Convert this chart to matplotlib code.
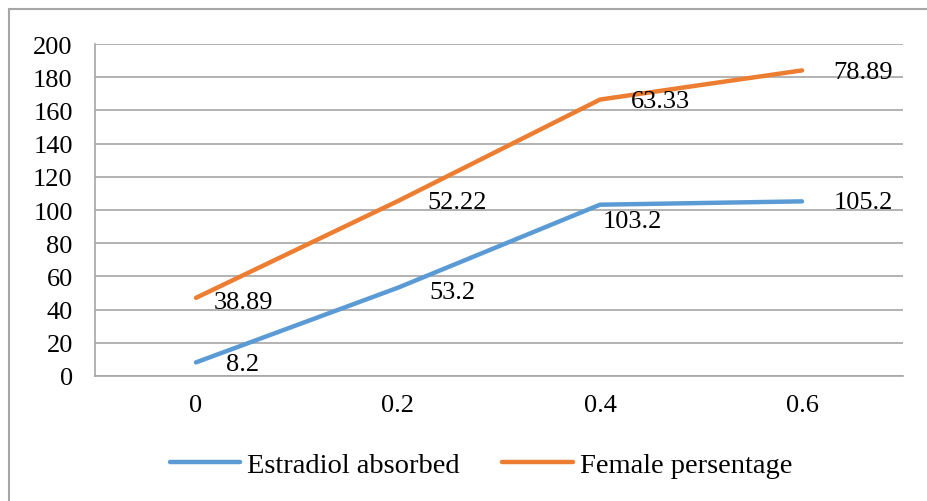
import matplotlib
matplotlib.use("Agg")
import matplotlib.pyplot as plt
from matplotlib.lines import Line2D
import numpy as np

# --- data ---
categories = ["0", "0.2", "0.4", "0.6"]
estradiol = [8.2, 53.2, 103.2, 105.2]
female = [38.89, 52.22, 63.33, 78.89]

# label placement (pixels right / up from the point)
est_offsets = [(47, -2), (54, -4), (32, -16), (61, -1)]
fem_offsets = [(47, -4), (59, -1), (60, -1), (61, -2)]

BLUE = "#5B9BD5"
ORANGE = "#ED7D31"
GRID = "#A6A6A6"
FS = 19

plt.rcParams['font.family'] = ['Liberation Serif', 'DejaVu Serif']

fig = plt.figure(figsize=(9.28, 5.02), dpi=100)
W, H = 928, 502
ax = fig.add_axes([95 / W, 1 - 377 / H, (903 - 95) / W, (377 - 45) / H])

x = np.arange(len(categories))
stacked = np.array(estradiol) + np.array(female)

ax.plot(x, estradiol, color=BLUE, lw=3.2, solid_capstyle='round', zorder=3,
        label="Estradiol absorbed")
ax.plot(x, stacked, color=ORANGE, lw=3.2, solid_capstyle='round', zorder=3,
        label="Female persentage")

for xi, yi, v, off in zip(x, estradiol, estradiol, est_offsets):
    ax.annotate(f"{v:g}", (xi, yi), xytext=off, textcoords='offset pixels',
                ha='center', va='center', fontsize=FS, zorder=4)
for xi, yi, v, off in zip(x, stacked, female, fem_offsets):
    ax.annotate(f"{v:.2f}", (xi, yi), xytext=off, textcoords='offset pixels',
                ha='center', va='center', fontsize=FS, zorder=4)

ax.set_xlim(-0.5, 3.5)
ax.set_ylim(0, 200)
ax.set_yticks(np.arange(0, 201, 20))
ax.set_xticks(x)
ax.set_xticklabels(categories)
ax.yaxis.grid(True, color=GRID, lw=1.2)
ax.set_axisbelow(True)
for s in ['top', 'right']:
    ax.spines[s].set_visible(False)
for s in ['left', 'bottom']:
    ax.spines[s].set_color(GRID)
    ax.spines[s].set_linewidth(1.2)
ax.tick_params(length=0, labelsize=FS, colors='black')
ax.tick_params(axis='y', pad=16)
ax.tick_params(axis='x', pad=13)

ax.legend(loc='center', bbox_to_anchor=(481 / W, 1 - 466 / H), bbox_transform=fig.transFigure,
          ncol=2, frameon=False, fontsize=20.5, handlelength=2.46, handletextpad=0.25,
          columnspacing=1.5)

# outer chart border
fig.add_artist(Line2D([9 / W, 9 / W], [0, 1 - 10 / H], color=GRID, lw=1.5))
fig.add_artist(Line2D([9 / W, 1], [1 - 10 / H, 1 - 10 / H], color=GRID, lw=1.5))

fig.savefig("out.png", dpi=100)
